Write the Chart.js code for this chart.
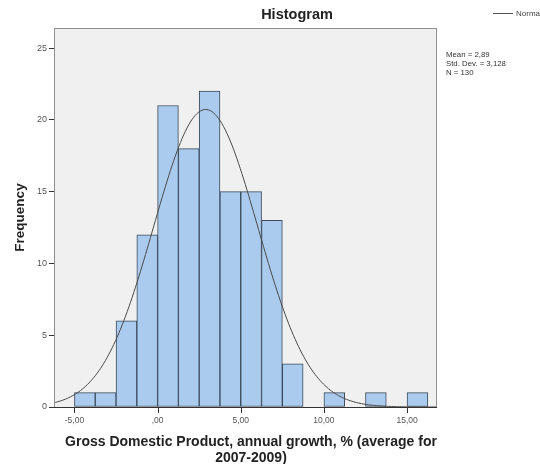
<!DOCTYPE html>
<html>
<head>
<meta charset="utf-8">
<script src="https://cdn.jsdelivr.net/npm/chart.js@4/dist/chart.umd.min.js"></script>
<style>
  body { margin: 0; background: #fff; }
  #wrap { position: relative; width: 540px; height: 464px; overflow: hidden; font-family: 'Liberation Sans', Arial, sans-serif; }
  #hist { position: absolute; left: 0; top: 0; }
  .title { position: absolute; left: 247px; width: 100px; top: 6px; text-align: center; font-weight: bold; font-size: 14.5px; color: #222; }
  .xtitle { position: absolute; left: 51px; width: 400px; top: 434px; text-align: center; font-weight: bold; font-size: 14px; line-height: 15.5px; color: #222; white-space: nowrap; }
  .legend { position: absolute; left: 493px; top: 9px; font-size: 8px; color: #444; white-space: nowrap; }
  .legend span { display: inline-block; width: 20px; border-top: 1px solid #555; vertical-align: middle; margin-right: 3px; }
  .stats { position: absolute; left: 446px; top: 50px; font-size: 7.8px; line-height: 9px; color: #333; }
</style>
</head>
<body>
<div id="wrap">
  <canvas id="hist" width="540" height="464"></canvas>
  <div class="title">Histogram</div>
  <div class="xtitle">Gross Domestic Product, annual growth, % (average for<br>2007-2009)</div>
  <div class="legend"><span></span>Normal</div>
  <div class="stats">Mean = 2,89<br>Std. Dev. = 3,128<br>N = 130</div>
</div>
<script>
// bins of 1.25 starting at -5
const binStarts = [-5, -3.75, -2.5, -1.25, 0, 1.25, 2.5, 3.75, 5, 6.25, 7.5, 8.75, 10, 11.25, 12.5, 13.75, 15];
const counts    = [ 1,  1,     6,   12,   21, 18,   22,  15,   15, 13,   3,   0,    1,  0,     1,    0,     1];
const binWidth = 1.25;

// summary stats for the fitted normal curve
const mean = 2.89;
const sd = 3.128;
const n = 130;

const xTicks = [-5, 0, 5, 10, 15];
const xTickLabels = ['-5,00', ',00', '5,00', '10,00', '15,00'];
const yTicks = [0, 5, 10, 15, 20, 25];

const xMin = -6.23, xMax = 16.8;
const yMax = 26.4;

const barPoints = binStarts.map((s, i) => ({ x: s + binWidth / 2, y: counts[i] }));

// normal density scaled to frequency per bin
const curve = [];
for (let x = xMin; x <= xMax + 1e-9; x += 0.1) {
    const z = (x - mean) / sd;
    curve.push({ x, y: n * binWidth * Math.exp(-0.5 * z * z) / (sd * Math.sqrt(2 * Math.PI)) });
}

const FONT = "'Liberation Sans', Arial, sans-serif";

// gray plot background, frame, x tick marks
const plotFrame = {
    id: 'plotFrame',
    beforeDatasetsDraw(chart) {
        const { ctx, chartArea: a } = chart;
        ctx.save();
        ctx.fillStyle = '#f0f0f0';
        ctx.fillRect(a.left, a.top, a.right - a.left, a.bottom - a.top);
        ctx.restore();
    },
    afterDraw(chart) {
        const { ctx, chartArea: a } = chart;
        const xs = chart.scales.x;
        ctx.save();
        ctx.strokeStyle = '#8e8e8e';
        ctx.lineWidth = 1;
        ctx.strokeRect(a.left + 0.5, a.top + 0.5, a.right - a.left - 1, a.bottom - a.top);
        ctx.strokeStyle = '#333';
        ctx.beginPath();
        ctx.moveTo(a.left, a.bottom + 0.5);
        ctx.lineTo(a.right, a.bottom + 0.5);
        xTicks.forEach(v => {
            const px = Math.round(xs.getPixelForValue(v)) + 0.5;
            ctx.moveTo(px, a.bottom);
            ctx.lineTo(px, a.bottom + 6);
        });
        ctx.stroke();
        ctx.restore();
    }
};

new Chart(document.getElementById('hist'), {
    type: 'bar',
    data: {
        datasets: [
            {
                type: 'line',
                data: curve,
                borderColor: '#4a4a4a',
                borderWidth: 1,
                pointRadius: 0,
                tension: 0,
                order: 0
            },
            {
                type: 'bar',
                data: barPoints,
                backgroundColor: '#aacbee',
                borderColor: '#3b4a5c',
                borderWidth: 1,
                borderSkipped: false,
                barPercentage: 1,
                categoryPercentage: 1,
                grouped: false,
                order: 1
            }
        ]
    },
    options: {
        responsive: false,
        animation: false,
        layout: { padding: { top: 28, right: 103, left: 0, bottom: 0 } },
        plugins: {
            legend: { display: false },
            title: { display: false },
            tooltip: { enabled: false }
        },
        scales: {
            x: {
                type: 'linear',
                min: xMin,
                max: xMax,
                offset: false,
                afterBuildTicks: s => { s.ticks = xTicks.map(v => ({ value: v })); },
                afterFit: s => { s.height = 57; },
                ticks: {
                    callback: (v) => xTickLabels[xTicks.indexOf(v)],
                    color: '#555',
                    font: { family: FONT, size: 8.5 },
                    padding: 3,
                    maxRotation: 0
                },
                grid: { display: false, offset: false, drawOnChartArea: false, tickLength: 6 },
                border: { display: false }
            },
            y: {
                min: 0,
                max: yMax,
                afterBuildTicks: s => { s.ticks = yTicks.map(v => ({ value: v })); },
                afterFit: s => { s.width = 54; },
                ticks: {
                    color: '#555',
                    font: { family: FONT, size: 9 },
                    padding: 2
                },
                grid: { drawOnChartArea: false, drawTicks: true, tickLength: 5, color: '#333' },
                border: { display: false },
                title: {
                    display: true,
                    text: 'Frequency',
                    color: '#222',
                    font: { family: FONT, size: 13.5, weight: 'bold', lineHeight: 1.3 },
                    padding: { top: 12, bottom: 0 }
                }
            }
        }
    },
    plugins: [plotFrame]
});
</script>
</body>
</html>
